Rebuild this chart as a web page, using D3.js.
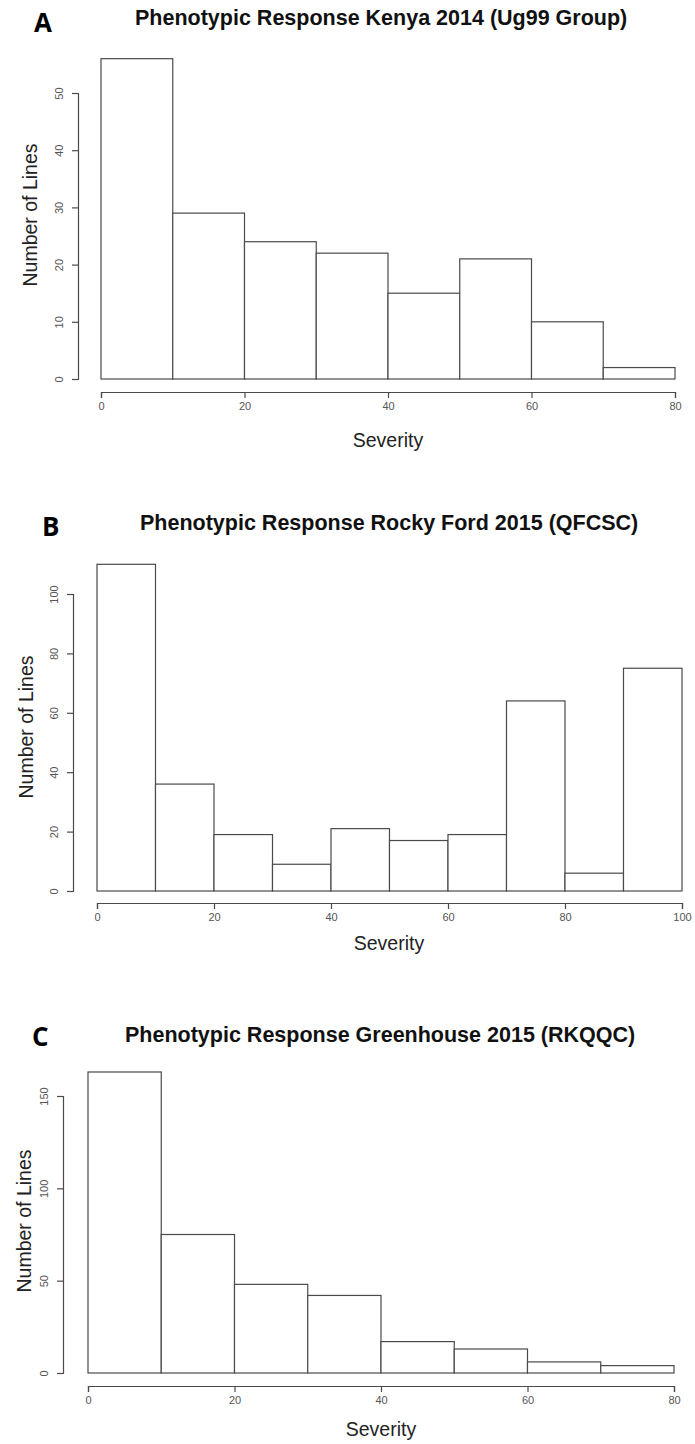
<!DOCTYPE html>
<html>
<head>
<meta charset="utf-8">
<script src="https://cdn.jsdelivr.net/npm/d3@7"></script>
<style>
  body { margin: 0; background: #fff; }
  svg { display: block; font-family: "Liberation Sans", Arial, sans-serif; }
</style>
</head>
<body>
<div id="graph"></div>
<script>
// bin edges (Severity) and counts per panel
var kenyaBins = [0, 10, 20, 30, 40, 50, 60, 70, 80];
var kenyaCounts = [56, 29, 24, 22, 15, 21, 10, 2];
var kenyaYTicks = [0, 10, 20, 30, 40, 50];
var kenyaXTicks = [0, 20, 40, 60, 80];

var rockyBins = [0, 10, 20, 30, 40, 50, 60, 70, 80, 90, 100];
var rockyCounts = [110, 36, 19, 9, 21, 17, 19, 64, 6, 75];
var rockyYTicks = [0, 20, 40, 60, 80, 100];
var rockyXTicks = [0, 20, 40, 60, 80, 100];

var greenBins = [0, 10, 20, 30, 40, 50, 60, 70, 80];
var greenCounts = [163, 75, 48, 42, 17, 13, 6, 4];
var greenYTicks = [0, 50, 100, 150];
var greenXTicks = [0, 20, 40, 60, 80];

var panelLetters = ["A", "B", "C"];
var panelTitles = [
  "Phenotypic Response Kenya 2014 (Ug99 Group)",
  "Phenotypic Response Rocky Ford 2015 (QFCSC)",
  "Phenotypic Response Greenhouse 2015 (RKQQC)"
];
var xTitle = "Severity";
var yTitle = "Number of Lines";

var W = 695, H = 1444;
var LINE = "#4a4a4a";

var svg = d3.select("#graph").append("svg")
    .attr("width", W)
    .attr("height", H);

// layout of each panel
var layouts = [
  {x0: 101, x1: 675, yBase: 379, yTop: 93, yMax: 50, axisX: 78, axisY: 392,
   letter: [34, 32], title: [135, 25], yLab: [37, 215], xLab: [388, 447]},
  {x0: 97, x1: 682, yBase: 891, yTop: 594, yMax: 100, axisX: 73, axisY: 903,
   letter: [42, 536], title: [140, 530], yLab: [33, 727], xLab: [389, 950]},
  {x0: 88, x1: 674, yBase: 1373, yTop: 1096, yMax: 150, axisX: 63, axisY: 1386,
   letter: [32, 1046], title: [125, 1042], yLab: [31, 1221], xLab: [381, 1436]}
];

var panels = [
  {bins: kenyaBins, counts: kenyaCounts, yTicks: kenyaYTicks, xTicks: kenyaXTicks},
  {bins: rockyBins, counts: rockyCounts, yTicks: rockyYTicks, xTicks: rockyXTicks},
  {bins: greenBins, counts: greenCounts, yTicks: greenYTicks, xTicks: greenXTicks}
];

panels.forEach(function(p, i) {
  draw_histogram(p, layouts[i], panelLetters[i], panelTitles[i]);
});

/**
 * Draws one R-style histogram panel
 */
function draw_histogram(p, L, letter, title) {
  var xscale = d3.scaleLinear()
                 .domain([p.bins[0], p.bins[p.bins.length - 1]])
                 .range([L.x0, L.x1]);
  var yscale = d3.scaleLinear()
                 .domain([0, L.yMax])
                 .range([L.yBase, L.yTop]);

  var data = p.counts.map(function(c, k) {
    return {lo: p.bins[k], hi: p.bins[k + 1], n: c};
  });

  var g = svg.append("g");

  // bars
  g.selectAll("rect.bar")
   .data(data)
   .enter()
   .append("rect")
     .attr("class", "bar")
     .attr("x", function(d) { return xscale(d.lo); })
     .attr("y", function(d) { return yscale(d.n); })
     .attr("width", function(d) { return xscale(d.hi) - xscale(d.lo); })
     .attr("height", function(d) { return yscale(0) - yscale(d.n); })
     .attr("fill", "#fff")
     .attr("stroke", LINE)
     .attr("stroke-width", 1.2);

  // y axis (labels parallel to the axis, like R)
  var yAxis = d3.axisLeft(yscale)
                .tickValues(p.yTicks)
                .tickSize(6)
                .tickSizeOuter(6);
  var yg = g.append("g")
            .attr("transform", "translate(" + L.axisX + ",0)")
            .call(yAxis);
  yg.selectAll("text")
    .attr("x", null)
    .attr("dy", null)
    .attr("text-anchor", "middle")
    .attr("transform", "translate(-15,0) rotate(-90)");

  // x axis
  var xAxis = d3.axisBottom(xscale)
                .tickValues(p.xTicks)
                .tickSize(6)
                .tickSizeOuter(6);
  var xg = g.append("g")
            .attr("transform", "translate(0," + L.axisY + ")")
            .call(xAxis);
  xg.selectAll("text").attr("y", 18).attr("dy", null);

  [yg, xg].forEach(function(a) {
    a.attr("font-family", null).attr("font-size", 11);
    a.selectAll("path, line").attr("stroke", LINE).attr("stroke-width", 1.2);
    a.selectAll("text").attr("fill", "#555");
  });

  // axis titles
  g.append("text")
   .attr("transform", "translate(" + L.yLab[0] + "," + L.yLab[1] + ") rotate(-90)")
   .attr("text-anchor", "middle")
   .attr("font-size", 19.5)
   .attr("fill", "#222")
   .text(yTitle);

  g.append("text")
   .attr("x", L.xLab[0])
   .attr("y", L.xLab[1])
   .attr("text-anchor", "middle")
   .attr("font-size", 19.5)
   .attr("fill", "#222")
   .text(xTitle);

  // main title + panel letter
  g.append("text")
   .attr("x", L.title[0])
   .attr("y", L.title[1])
   .attr("font-size", 21.5)
   .attr("font-weight", "bold")
   .attr("fill", "#111")
   .text(title);

  g.append("text")
   .attr("x", L.letter[0])
   .attr("y", L.letter[1])
   .attr("font-family", "'Open Sans', 'Noto Sans', sans-serif")
   .attr("font-size", 26)
   .attr("font-weight", "bold")
   .attr("fill", "#000")
   .text(letter);
}
</script>
</body>
</html>
